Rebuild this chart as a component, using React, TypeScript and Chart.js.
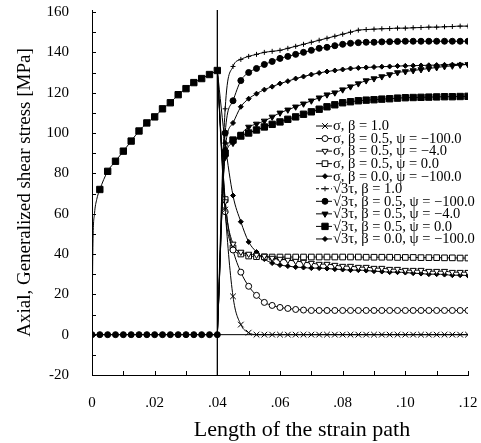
import React, { useEffect, useRef } from 'react';
import { Chart, registerables } from 'chart.js';

Chart.register(...registerables);

const FONT = '"Liberation Serif", "Times New Roman", serif';

// ---------- data ----------
const Y_TICKS = [-20, -10, 0, 10, 20, 30, 40, 50, 60, 70, 80, 90, 100, 110, 120, 130, 140, 150, 160];
const X_TICKS = [0, 0.01, 0.02, 0.03, 0.04, 0.05, 0.06, 0.07, 0.08, 0.09, 0.1, 0.11, 0.12];

const REF_STRAIN = 0.04; // path change
const REF_STRESS = 0;

// loading phase (axial stress)
const LOAD_X = [0, 0.0003, 0.0008, 0.0015, 0.0025, 0.005, 0.0075, 0.01, 0.0125, 0.015, 0.0175, 0.02, 0.0225, 0.025, 0.0275, 0.03, 0.0325, 0.035, 0.0375, 0.04];
const LOAD_SIGMA = [0, 45, 60, 67, 72, 81, 86, 91, 96, 101, 105, 108, 112, 115, 119, 122, 125, 127, 129, 131];
// loading phase (shear stress)
const LOAD_TAU_X = [0, 0.0025, 0.005, 0.0075, 0.01, 0.0125, 0.015, 0.0175, 0.02, 0.0225, 0.025, 0.0275, 0.03, 0.0325, 0.035, 0.0375, 0.04];
const LOAD_TAU = [0, 0, 0, 0, 0, 0, 0, 0, 0, 0, 0, 0, 0, 0, 0, 0, 0];

// after path change
const POST_X = [0.04, 0.0425, 0.045, 0.0475, 0.05, 0.0525, 0.055, 0.0575, 0.06, 0.0625, 0.065, 0.0675, 0.07, 0.0725, 0.075, 0.0775, 0.08, 0.0825, 0.085, 0.0875, 0.09, 0.0925, 0.095, 0.0975, 0.1, 0.1025, 0.105, 0.1075, 0.11, 0.1125, 0.115, 0.1175, 0.12];

const SIG_B10 = [131, 62, 19, 5, 1, 0, 0, 0, 0, 0, 0, 0, 0, 0, 0, 0, 0, 0, 0, 0, 0, 0, 0, 0, 0, 0, 0, 0, 0, 0, 0, 0, 0];
const SIG_B05_P100 = [131, 61, 42, 31, 24, 19.5, 16, 14.5, 13.5, 13, 12.5, 12.2, 12, 12, 12, 12, 12, 12, 12, 12, 12, 12, 12, 12, 12, 12, 12, 12, 12, 12, 12, 12, 12];
const SIG_B05_P4 = [131, 66, 45, 41, 40, 39.5, 39, 38, 37.5, 37, 36.5, 36, 35.5, 35, 35, 34.5, 34, 34, 33.5, 33.5, 33, 33, 32.5, 32.5, 32, 32, 32, 31.5, 31.5, 31.5, 31, 31, 31];
const SIG_B05_P0 = [131, 67, 43, 40, 39, 38.7, 38.6, 38.5, 38.5, 38.5, 38.5, 38.5, 38.5, 38.5, 38.5, 38.5, 38.5, 38.5, 38.5, 38.4, 38.4, 38.4, 38.4, 38.3, 38.3, 38.3, 38.2, 38.2, 38.2, 38.1, 38.1, 38, 38];
const SIG_B00_P100 = [131, 95, 69, 56, 46, 41, 37.5, 35.5, 34.5, 34, 33.5, 33.3, 33, 33, 32.8, 32.5, 32.3, 32, 32, 31.8, 31.5, 31.3, 31, 31, 30.8, 30.5, 30.3, 30, 30, 29.8, 29.5, 29.5, 29.3];

const TAU_B10 = [0, 112, 133, 136.5, 138, 139, 140, 140.5, 141, 142, 143, 144, 145, 146, 147, 148, 149, 150, 151, 151.3, 151.5, 151.7, 151.8, 152, 152, 152.2, 152.3, 152.5, 152.5, 152.7, 152.8, 153, 153];
const TAU_B05_P100 = [0, 100, 116, 126, 130, 132, 134, 135.5, 137, 138, 139, 140, 141, 142, 142.5, 143.3, 144, 144.5, 144.8, 145, 145, 145.2, 145.3, 145.4, 145.5, 145.5, 145.5, 145.5, 145.5, 145.5, 145.5, 145.5, 145.5];
const TAU_B05_P4 = [0, 88, 95, 99.5, 103, 104.5, 106, 108, 110, 111.5, 113, 114.5, 116, 117.5, 119, 120, 121.5, 123, 124.5, 126, 127, 128, 129, 130, 130.5, 131, 131.5, 132, 132.5, 133, 133.3, 133.7, 134];
const TAU_B05_P0 = [0, 90, 96.5, 98.5, 100, 101.5, 103, 104.3, 105.5, 106.8, 108, 109.3, 110.5, 111.8, 113, 114, 115, 115.5, 116, 116.3, 116.5, 116.8, 117, 117.3, 117.5, 117.6, 117.7, 117.8, 117.9, 118, 118, 118.1, 118.2];
const TAU_B00_P100 = [0, 92, 105, 113, 117, 119.5, 121.5, 123, 124.5, 125.7, 127, 128, 129, 129.8, 130.5, 131, 131.5, 132, 132.3, 132.5, 132.7, 132.9, 133, 133.2, 133.3, 133.4, 133.5, 133.6, 133.7, 133.8, 133.9, 134, 134];

const LABELS = [
  'σ, β = 1.0',
  'σ, β = 0.5, ψ = −100.0',
  'σ, β = 0.5, ψ = −4.0',
  'σ, β = 0.5, ψ = 0.0',
  'σ, β = 0.0, ψ = −100.0',
  '√3τ, β = 1.0',
  '√3τ, β = 0.5, ψ = −100.0',
  '√3τ, β = 0.5, ψ = −4.0',
  '√3τ, β = 0.5, ψ = 0.0',
  '√3τ, β = 0.0, ψ = −100.0',
];

const X_TITLE = 'Length of the strain path';
const Y_TITLE = 'Axial, Generalized shear stress [MPa]';

// ---------- helpers ----------
function toPoints(xs: number[], ys: number[]) {
  return xs.map((x, i) => ({ x, y: ys[i] }));
}

function drawMarker(ctx: CanvasRenderingContext2D, style: string, x: number, y: number, r: number, rotation: number, filled: boolean) {
  ctx.save();
  ctx.beginPath();
  const isLine = style === 'cross' || style === 'crossRot';
  switch (style) {
    case 'circle':
      ctx.arc(x, y, r, 0, Math.PI * 2);
      break;
    case 'rect': {
      const s = Math.SQRT1_2 * r;
      ctx.rect(x - s, y - s, 2 * s, 2 * s);
      break;
    }
    case 'rectRot':
      ctx.moveTo(x, y - r);
      ctx.lineTo(x + r, y);
      ctx.lineTo(x, y + r);
      ctx.lineTo(x - r, y);
      ctx.closePath();
      break;
    case 'triangle': {
      let a = (rotation * Math.PI) / 180;
      ctx.moveTo(x + Math.sin(a) * r, y - Math.cos(a) * r);
      a += (2 * Math.PI) / 3;
      ctx.lineTo(x + Math.sin(a) * r, y - Math.cos(a) * r);
      a += (2 * Math.PI) / 3;
      ctx.lineTo(x + Math.sin(a) * r, y - Math.cos(a) * r);
      ctx.closePath();
      break;
    }
    case 'cross':
      ctx.moveTo(x, y - r);
      ctx.lineTo(x, y + r);
      ctx.moveTo(x - r, y);
      ctx.lineTo(x + r, y);
      break;
    case 'crossRot': {
      const s = Math.SQRT1_2 * r;
      ctx.moveTo(x - s, y - s);
      ctx.lineTo(x + s, y + s);
      ctx.moveTo(x - s, y + s);
      ctx.lineTo(x + s, y - s);
      break;
    }
  }
  if (!isLine) {
    ctx.fillStyle = filled ? '#000' : '#fff';
    ctx.fill();
  }
  ctx.strokeStyle = '#000';
  ctx.lineWidth = 1;
  ctx.stroke();
  ctx.restore();
}

type Marker = { style: string; r: number; rot?: number; filled: boolean; dash?: number[] };

const MARKERS: Marker[] = [
  { style: 'crossRot', r: 4, filled: false },
  { style: 'circle', r: 3, filled: false },
  { style: 'triangle', r: 3.5, rot: 180, filled: false },
  { style: 'rect', r: 4, filled: false },
  { style: 'rectRot', r: 2.5, filled: true },
  { style: 'cross', r: 2.5, filled: false, dash: [3, 2] },
  { style: 'circle', r: 3, filled: true },
  { style: 'triangle', r: 3.5, rot: 180, filled: true },
  { style: 'rect', r: 4.5, filled: true },
  { style: 'rectRot', r: 2.5, filled: true },
];

const SERIES = [SIG_B10, SIG_B05_P100, SIG_B05_P4, SIG_B05_P0, SIG_B00_P100, TAU_B10, TAU_B05_P100, TAU_B05_P4, TAU_B05_P0, TAU_B00_P100];

const refLinesPlugin = {
  id: 'refLines',
  beforeDatasetsDraw(chart: any) {
    const { ctx, chartArea, scales } = chart;
    const x = scales.x.getPixelForValue(REF_STRAIN);
    const y = scales.y.getPixelForValue(REF_STRESS);
    ctx.save();
    ctx.strokeStyle = '#000';
    ctx.lineWidth = 1.3;
    ctx.beginPath();
    ctx.moveTo(x, chartArea.bottom);
    ctx.lineTo(x, chartArea.top);
    ctx.stroke();
    ctx.lineWidth = 1;
    ctx.beginPath();
    ctx.moveTo(chartArea.left, y);
    ctx.lineTo(chartArea.right, y);
    ctx.stroke();
    ctx.restore();
  },
};

const inwardTicksPlugin = {
  id: 'inwardTicks',
  afterDraw(chart: any) {
    const { ctx, chartArea, scales } = chart;
    ctx.save();
    ctx.strokeStyle = '#000';
    ctx.lineWidth = 1;
    ctx.beginPath();
    for (const t of scales.y.ticks) {
      const py = Math.round(scales.y.getPixelForValue(t.value)) + 0.5;
      ctx.moveTo(chartArea.left, py);
      ctx.lineTo(chartArea.left + 4, py);
    }
    for (const t of scales.x.ticks) {
      const px = Math.round(scales.x.getPixelForValue(t.value)) + 0.5;
      ctx.moveTo(px, chartArea.bottom);
      ctx.lineTo(px, chartArea.bottom - 4);
    }
    ctx.stroke();
    ctx.restore();
  },
};

const legendPlugin = {
  id: 'insideLegend',
  afterDatasetsDraw(chart: any) {
    const { ctx, chartArea } = chart;
    const x0 = chartArea.right - 152;
    const y0 = chartArea.top + 116;
    const step = 12.55;
    ctx.save();
    ctx.font = `14.5px ${FONT}`;
    ctx.textBaseline = 'middle';
    ctx.textAlign = 'left';
    ctx.fillStyle = '#000';
    chart.data.datasets.forEach((ds: any) => {
      if (ds.legendIndex === undefined) return;
      const i = ds.legendIndex;
      const m: Marker = MARKERS[i];
      const y = y0 + i * step;
      ctx.strokeStyle = '#000';
      ctx.lineWidth = 1;
      ctx.setLineDash(m.dash || []);
      ctx.beginPath();
      ctx.moveTo(x0, y);
      ctx.lineTo(x0 + 16, y);
      ctx.stroke();
      ctx.setLineDash([]);
      drawMarker(ctx, m.style, x0 + 9, y, m.r, m.rot || 0, m.filled);
      ctx.fillStyle = '#000';
      ctx.fillText(ds.label, x0 + 17, y + 0.5);
    });
    ctx.restore();
  },
};

const xTitlePlugin = {
  id: 'xTitle',
  afterDraw(chart: any) {
    const { ctx, chartArea } = chart;
    ctx.save();
    ctx.font = `22px ${FONT}`;
    ctx.textAlign = 'center';
    ctx.textBaseline = 'middle';
    ctx.fillStyle = '#000';
    ctx.fillText(X_TITLE, (chartArea.left + chartArea.right) / 2 + 22, chartArea.bottom + 55);
    ctx.restore();
  },
};

function clearScalePadding(s: any) {
  s.paddingTop = 0;
  s.paddingBottom = 0;
  s.paddingLeft = 0;
  s.paddingRight = 0;
}

export default function App() {
  const ref = useRef<HTMLCanvasElement | null>(null);

  useEffect(() => {
    document.body.style.margin = '0';
    const canvas = ref.current;
    if (!canvas) return;

    const common = {
      borderColor: '#000',
      borderWidth: 1,
      pointBorderColor: '#000',
      pointBorderWidth: 1,
      fill: false,
      cubicInterpolationMode: 'monotone' as const,
    };

    const datasets: any[] = [
      {
        ...common,
        label: '',
        data: toPoints(LOAD_X, LOAD_SIGMA),
        pointStyle: 'rect',
        pointBackgroundColor: '#000',
        pointRadius: (c: any) => (c.dataIndex >= 4 ? 4.5 : 0),
        pointHoverRadius: (c: any) => (c.dataIndex >= 4 ? 4.5 : 0),
      },
      {
        ...common,
        label: '',
        data: toPoints(LOAD_TAU_X, LOAD_TAU),
        pointStyle: 'circle',
        pointBackgroundColor: '#000',
        pointRadius: 3,
        pointHoverRadius: 3,
      },
    ];

    SERIES.forEach((vals, i) => {
      const m = MARKERS[i];
      const isLine = m.style === 'cross' || m.style === 'crossRot';
      datasets.push({
        ...common,
        label: LABELS[i],
        legendIndex: i,
        data: toPoints(POST_X, vals),
        pointStyle: m.style,
        rotation: m.rot || 0,
        pointBackgroundColor: isLine ? '#000' : m.filled ? '#000' : '#fff',
        pointRadius: (c: any) => (c.dataIndex === 0 ? 0 : m.r),
        pointHoverRadius: (c: any) => (c.dataIndex === 0 ? 0 : m.r),
      });
    });

    const chart = new Chart(canvas, {
      type: 'line',
      data: { datasets },
      options: {
        animation: false,
        responsive: false,
        devicePixelRatio: 1,
        events: [],
        layout: { padding: { top: 10, right: 13, bottom: 0, left: 0 } },
        plugins: {
          legend: { display: false },
          tooltip: { enabled: false },
        },
        scales: {
          x: {
            type: 'linear',
            min: 0,
            max: 0.12,
            afterBuildTicks: (s: any) => {
              s.ticks = X_TICKS.map((v) => ({ value: v }));
            },
            afterFit: (s: any) => {
              s.height = 68;
              clearScalePadding(s);
            },
            grid: { display: false, drawTicks: false },
            border: { display: true, color: '#000', width: 1 },
            ticks: {
              autoSkip: false,
              maxRotation: 0,
              minRotation: 0,
              padding: 19,
              color: '#000',
              font: { family: FONT, size: 15 },
              callback: (v: any) => {
                const n = Math.round(Number(v) * 100);
                if (n % 2 !== 0) return '';
                if (n === 0) return '0';
                return '.' + String(n).padStart(2, '0');
              },
            },
            title: { display: false, text: X_TITLE },
          },
          y: {
            type: 'linear',
            min: -20,
            max: 161,
            afterBuildTicks: (s: any) => {
              s.ticks = Y_TICKS.map((v) => ({ value: v }));
            },
            afterFit: (s: any) => {
              s.width = 92;
              clearScalePadding(s);
            },
            grid: { display: false, drawTicks: false },
            border: { display: true, color: '#000', width: 1 },
            ticks: {
              autoSkip: false,
              padding: 23,
              color: '#000',
              font: { family: FONT, size: 15 },
              callback: (v: any) => (Math.round(Number(v)) % 20 === 0 ? String(v) : ''),
            },
            title: {
              display: true,
              text: Y_TITLE,
              color: '#000',
              font: { family: FONT, size: 19 },
              padding: { top: 14, bottom: 0 },
            },
          },
        },
      },
      plugins: [refLinesPlugin, inwardTicksPlugin, legendPlugin, xTitlePlugin],
    } as any);

    return () => {
      chart.destroy();
    };
  }, []);

  return <canvas ref={ref} width={481} height={443} style={{ display: 'block', width: 481, height: 443 }} />;
}
